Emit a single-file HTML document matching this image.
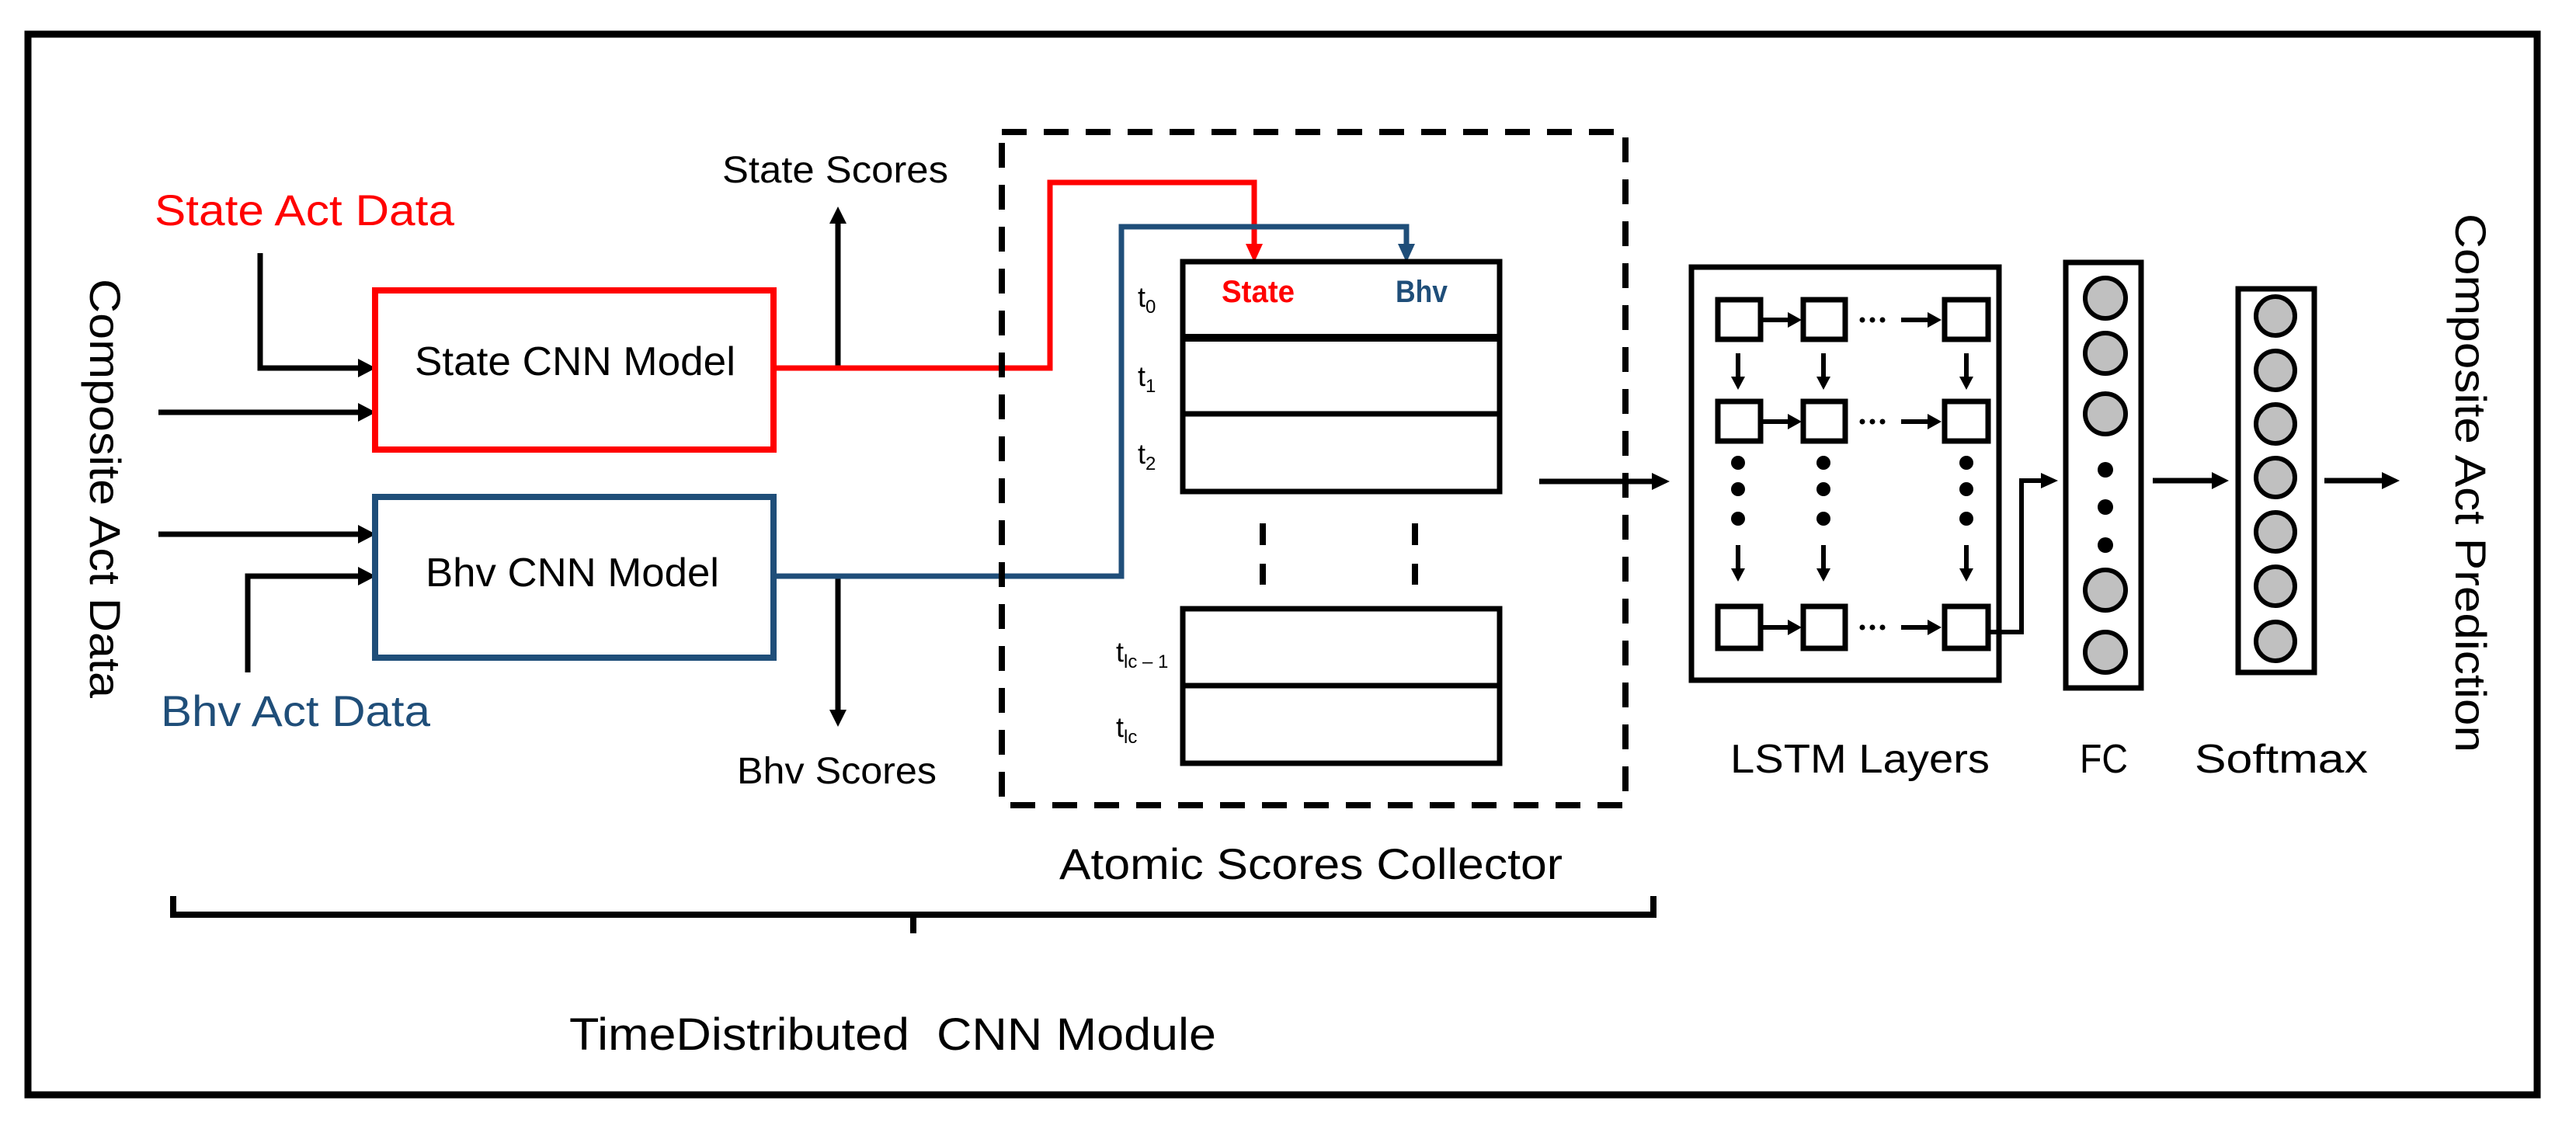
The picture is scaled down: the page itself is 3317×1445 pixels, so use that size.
<!DOCTYPE html>
<html><head><meta charset="utf-8"><style>html,body{margin:0;padding:0;background:#fff}svg{display:block}</style></head>
<body>
<svg width="3317" height="1445" viewBox="0 0 3317 1445" xmlns="http://www.w3.org/2000/svg" font-family="'Liberation Sans', sans-serif">
<rect x="0" y="0" width="3317" height="1445" fill="#fff"/>
<!-- outer border -->
<rect x="36" y="44" width="3231" height="1366" fill="none" stroke="#000" stroke-width="9"/>

<!-- left vertical label -->
<text transform="translate(116,359) rotate(90)" font-size="56" textLength="540" lengthAdjust="spacingAndGlyphs">Composite Act Data</text>
<!-- right vertical label -->
<text transform="translate(3162,275) rotate(90)" font-size="56" textLength="694" lengthAdjust="spacingAndGlyphs">Composite Act Prediction</text>

<!-- State Act Data -->
<text x="199" y="290" font-size="56" fill="#ff0000" textLength="386" lengthAdjust="spacingAndGlyphs">State Act Data</text>
<text x="207" y="935" font-size="56" fill="#1f4e79" textLength="347" lengthAdjust="spacingAndGlyphs">Bhv Act Data</text>

<g stroke="#000" stroke-width="7" fill="none">
  <polyline points="335,326 335,474 462,474"/>
  <line x1="204" y1="531" x2="462" y2="531"/>
  <line x1="204" y1="688" x2="462" y2="688"/>
  <polyline points="319,866 319,742 462,742"/>
</g>
<g fill="#000">
  <polygon points="484,474 461,462 461,486"/>
  <polygon points="484,531 461,519 461,543"/>
  <polygon points="484,688 461,676 461,700"/>
  <polygon points="484,742 461,730 461,754"/>
</g>

<!-- CNN boxes -->
<rect x="483" y="374" width="513" height="205" fill="none" stroke="#ff0000" stroke-width="8"/>
<text x="534" y="483" font-size="52" textLength="413" lengthAdjust="spacingAndGlyphs">State CNN Model</text>
<rect x="483" y="640" width="513" height="207" fill="none" stroke="#1f4e79" stroke-width="8"/>
<text x="548" y="755" font-size="52" textLength="378" lengthAdjust="spacingAndGlyphs">Bhv CNN Model</text>

<!-- scores arrows -->
<g stroke="#000" stroke-width="7">
  <line x1="1079" y1="474" x2="1079" y2="285"/>
  <line x1="1079" y1="742" x2="1079" y2="917"/>
</g>
<polygon points="1079,266 1068,288 1090,288" fill="#000"/>
<polygon points="1079,936 1068,914 1090,914" fill="#000"/>
<text x="930" y="235" font-size="48" textLength="291" lengthAdjust="spacingAndGlyphs">State Scores</text>
<text x="949" y="1009" font-size="48" textLength="257" lengthAdjust="spacingAndGlyphs">Bhv Scores</text>

<!-- red and blue connectors -->
<polyline points="996,474 1352,474 1352,235 1615,235 1615,316" fill="none" stroke="#ff0000" stroke-width="7"/>
<polygon points="1615,338 1604,314 1626,314" fill="#ff0000"/>
<polyline points="996,742 1444,742 1444,292 1811,292 1811,316" fill="none" stroke="#1f4e79" stroke-width="7"/>
<polygon points="1811,338 1800,314 1822,314" fill="#1f4e79"/>

<!-- dashed box -->
<rect x="1290" y="170" width="803" height="867" fill="none" stroke="#000" stroke-width="8" stroke-dasharray="32 22"/>

<!-- tables -->
<rect x="1523" y="337" width="408" height="296" fill="none" stroke="#000" stroke-width="7"/>
<line x1="1523" y1="435" x2="1931" y2="435" stroke="#000" stroke-width="10"/>
<line x1="1523" y1="533" x2="1931" y2="533" stroke="#000" stroke-width="7"/>
<rect x="1523" y="784" width="408" height="199" fill="none" stroke="#000" stroke-width="7"/>
<line x1="1523" y1="883" x2="1931" y2="883" stroke="#000" stroke-width="7"/>
<text x="1573" y="389" font-size="40" font-weight="bold" fill="#ff0000" textLength="94" lengthAdjust="spacingAndGlyphs">State</text>
<text x="1797" y="389" font-size="40" font-weight="bold" fill="#1f4e79" textLength="67" lengthAdjust="spacingAndGlyphs">Bhv</text>
<g font-size="36">
  <text x="1465" y="395">t<tspan font-size="24" dy="8">0</tspan></text>
  <text x="1465" y="497">t<tspan font-size="24" dy="8">1</tspan></text>
  <text x="1465" y="597">t<tspan font-size="24" dy="8">2</tspan></text>
  <text x="1437" y="852">t<tspan font-size="24" dy="8">lc – 1</tspan></text>
  <text x="1437" y="949">t<tspan font-size="24" dy="8">lc</tspan></text>
</g>
<g stroke="#000" stroke-width="8">
  <line x1="1626" y1="674" x2="1626" y2="702"/><line x1="1626" y1="726" x2="1626" y2="753"/>
  <line x1="1822" y1="674" x2="1822" y2="702"/><line x1="1822" y1="726" x2="1822" y2="753"/>
</g>
<!-- table -> LSTM -->
<line x1="1982" y1="620" x2="2128" y2="620" stroke="#000" stroke-width="7"/>
<polygon points="2150,620 2127,609 2127,631" fill="#000"/>

<text x="1364" y="1132" font-size="56" textLength="648" lengthAdjust="spacingAndGlyphs">Atomic Scores Collector</text>

<!-- bracket -->
<path d="M223,1154 L223,1178 L2129,1178 L2129,1154 M1176,1178 L1176,1202" fill="none" stroke="#000" stroke-width="8"/>
<text x="733" y="1352" font-size="58" textLength="833" lengthAdjust="spacingAndGlyphs" xml:space="preserve">TimeDistributed  CNN Module</text>

<!-- LSTM -->
<rect x="2178" y="344" width="396" height="532" fill="none" stroke="#000" stroke-width="7"/>
<g fill="none" stroke="#000" stroke-width="7">
  <rect x="2212" y="386" width="55" height="51"/><rect x="2322" y="386" width="54" height="51"/><rect x="2504" y="386" width="56" height="51"/>
  <rect x="2212" y="517" width="55" height="51"/><rect x="2322" y="517" width="54" height="51"/><rect x="2504" y="517" width="56" height="51"/>
  <rect x="2212" y="781" width="55" height="54"/><rect x="2322" y="781" width="54" height="54"/><rect x="2504" y="781" width="56" height="54"/>
</g>
<g stroke="#000" stroke-width="6">
  <line x1="2270" y1="412" x2="2305" y2="412"/><line x1="2448" y1="412" x2="2485" y2="412"/>
  <line x1="2270" y1="543" x2="2305" y2="543"/><line x1="2448" y1="543" x2="2485" y2="543"/>
  <line x1="2270" y1="808" x2="2305" y2="808"/><line x1="2448" y1="808" x2="2485" y2="808"/>
  <line x1="2238" y1="455" x2="2238" y2="488"/><line x1="2348" y1="455" x2="2348" y2="488"/><line x1="2532" y1="455" x2="2532" y2="488"/>
  <line x1="2238" y1="702" x2="2238" y2="735"/><line x1="2348" y1="702" x2="2348" y2="735"/><line x1="2532" y1="702" x2="2532" y2="735"/>
</g>
<g fill="#000">
  <polygon points="2320,412 2302,402 2302,422"/><polygon points="2500,412 2482,402 2482,422"/>
  <polygon points="2320,543 2302,533 2302,553"/><polygon points="2500,543 2482,533 2482,553"/>
  <polygon points="2320,808 2302,798 2302,818"/><polygon points="2500,808 2482,798 2482,818"/>
  <polygon points="2238,502 2229,485 2247,485"/><polygon points="2348,502 2339,485 2357,485"/><polygon points="2532,502 2523,485 2541,485"/>
  <polygon points="2238,749 2229,732 2247,732"/><polygon points="2348,749 2339,732 2357,732"/><polygon points="2532,749 2523,732 2541,732"/>
  <circle cx="2238" cy="596" r="9"/><circle cx="2238" cy="630" r="9"/><circle cx="2238" cy="668" r="9"/>
  <circle cx="2348" cy="596" r="9"/><circle cx="2348" cy="630" r="9"/><circle cx="2348" cy="668" r="9"/>
  <circle cx="2532" cy="596" r="9"/><circle cx="2532" cy="630" r="9"/><circle cx="2532" cy="668" r="9"/>
  <circle cx="2398" cy="412" r="3.5"/><circle cx="2411" cy="412" r="3.5"/><circle cx="2424" cy="412" r="3.5"/>
  <circle cx="2398" cy="543" r="3.5"/><circle cx="2411" cy="543" r="3.5"/><circle cx="2424" cy="543" r="3.5"/>
  <circle cx="2398" cy="808" r="3.5"/><circle cx="2411" cy="808" r="3.5"/><circle cx="2424" cy="808" r="3.5"/>
</g>
<!-- LSTM -> FC -->
<polyline points="2563,814 2603,814 2603,619 2630,619" fill="none" stroke="#000" stroke-width="6"/>
<polygon points="2650,619 2628,609 2628,629" fill="#000"/>

<!-- FC -->
<rect x="2660" y="338" width="97" height="548" fill="none" stroke="#000" stroke-width="7"/>
<g fill="#c0c0c0" stroke="#000" stroke-width="6">
  <circle cx="2711" cy="384" r="26"/><circle cx="2711" cy="455" r="26"/><circle cx="2711" cy="533" r="26"/>
  <circle cx="2711" cy="760" r="26"/><circle cx="2711" cy="840" r="26"/>
</g>
<g fill="#000"><circle cx="2711" cy="605" r="10"/><circle cx="2711" cy="653" r="10"/><circle cx="2711" cy="702" r="10"/></g>
<line x1="2772" y1="619" x2="2850" y2="619" stroke="#000" stroke-width="7"/>
<polygon points="2870,619 2848,608 2848,630" fill="#000"/>

<!-- Softmax -->
<rect x="2882" y="372" width="98" height="494" fill="none" stroke="#000" stroke-width="7"/>
<g fill="#c0c0c0" stroke="#000" stroke-width="6">
  <circle cx="2930" cy="407" r="25"/><circle cx="2930" cy="477" r="25"/><circle cx="2930" cy="546" r="25"/>
  <circle cx="2930" cy="615" r="25"/><circle cx="2930" cy="685" r="25"/><circle cx="2930" cy="755" r="25"/><circle cx="2930" cy="826" r="25"/>
</g>
<line x1="2993" y1="619" x2="3068" y2="619" stroke="#000" stroke-width="7"/>
<polygon points="3090,619 3067,608 3067,630" fill="#000"/>

<text x="2228" y="995" font-size="52" textLength="334" lengthAdjust="spacingAndGlyphs">LSTM Layers</text>
<text x="2678" y="995" font-size="52" textLength="62" lengthAdjust="spacingAndGlyphs">FC</text>
<text x="2826" y="995" font-size="52" textLength="223" lengthAdjust="spacingAndGlyphs">Softmax</text>
</svg>
</body></html>
